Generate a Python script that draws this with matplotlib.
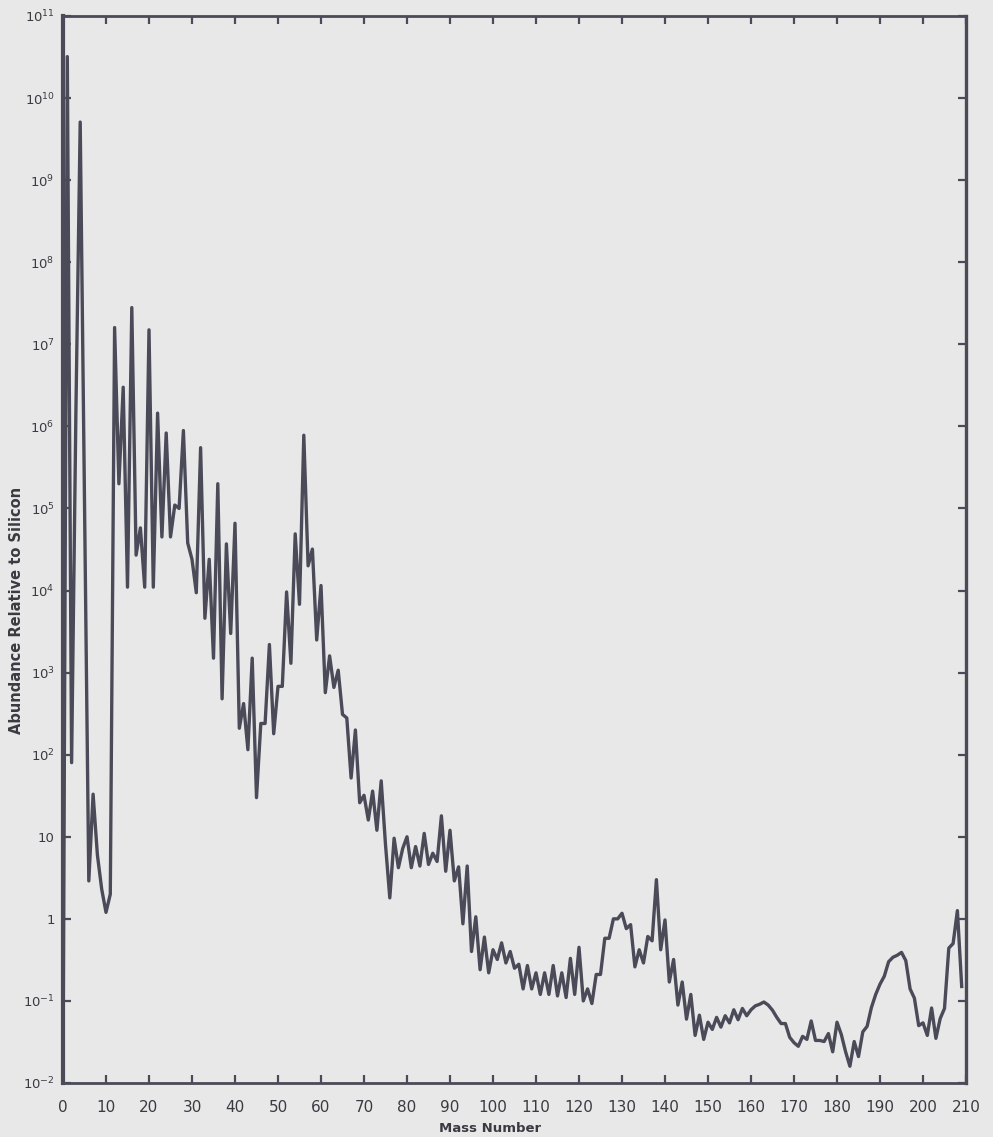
import matplotlib
matplotlib.use("Agg")
import matplotlib.pyplot as plt
from matplotlib.ticker import FixedLocator, NullLocator

# ---- data (mass number -> abundance relative to Si = 10^6)
mass_number = [0, 1, 2, 3, 4, 6, 7, 8, 9, 10, 11,
               12, 13, 14, 15, 16, 17, 18, 19, 20, 21, 22, 23, 24, 25, 26, 27, 28, 29, 30,
               31, 32, 33, 34, 35, 36, 37, 38, 39, 40, 41, 42, 43, 44, 45, 46, 47, 48, 49, 50,
               51, 52, 53, 54, 55, 56, 57, 58, 59, 60, 61, 62, 63, 64, 65, 66, 67, 68, 69, 70,
               71, 72, 73, 74, 75, 76, 77, 78, 79, 80, 81, 82, 83, 84, 85, 86, 87, 88, 89, 90,
               91, 92, 93, 94, 95, 96, 97, 98, 99, 100, 101, 102, 103, 104, 105, 106, 107, 108, 109, 110,
               111, 112, 113, 114, 115, 116, 117, 118, 119, 120, 121, 122, 123, 124, 125, 126, 127, 128, 129, 130,
               131, 132, 133, 134, 135, 136, 137, 138, 139, 140, 141, 142, 143, 144, 145, 146, 147, 148, 149, 150,
               151, 152, 153, 154, 155, 156, 157, 158, 159, 160, 161, 162, 163, 164, 165, 166, 167, 168, 169, 170,
               171, 172, 173, 174, 175, 176, 177, 178, 179, 180, 181, 182, 183, 184, 185, 186, 187, 188, 189, 190,
               191, 192, 193, 194, 195, 196, 197, 198, 199, 200, 201, 202, 203, 204, 205, 206, 207, 208, 209]

abundance = [1.0e-2, 3.2e10, 80, 1.5e6, 5.1e9, 2.9, 33, 6, 2.3, 1.2, 2,
             1.6e7, 2.0e5, 3.0e6, 1.1e4, 2.8e7, 2.7e4, 5.8e4, 1.1e4, 1.5e7, 1.1e4, 1.45e6, 4.5e4, 8.3e5, 4.5e4, 1.1e5, 1.0e5, 8.9e5, 3.8e4, 2.4e4,
             9.4e3, 5.5e5, 4.6e3, 2.4e4, 1.5e3, 2.0e5, 480, 3.7e4, 3.0e3, 6.6e4, 210, 420, 115, 1.5e3, 30, 240, 240, 2.2e3, 180, 680,
             680, 9.6e3, 1.3e3, 4.9e4, 6.8e3, 7.8e5, 2.0e4, 3.2e4, 2.5e3, 1.15e4, 570, 1.6e3, 660, 1.07e3, 310, 280, 52, 200, 26, 32,
             16, 36, 12, 48, 8, 1.8, 9.6, 4.2, 7.2, 10, 4.2, 7.6, 4.4, 11, 4.6, 6.3, 5, 18, 3.8, 12,
             2.9, 4.3, 0.87, 4.4, 0.40, 1.06, 0.24, 0.60, 0.22, 0.42, 0.32, 0.51, 0.29, 0.40, 0.25, 0.28, 0.14, 0.27, 0.14, 0.22,
             0.12, 0.22, 0.12, 0.27, 0.115, 0.22, 0.11, 0.33, 0.12, 0.45, 0.10, 0.14, 0.093, 0.21, 0.21, 0.58, 0.58, 1.0, 1.0, 1.17,
             0.76, 0.85, 0.26, 0.42, 0.29, 0.61, 0.54, 3.0, 0.42, 0.97, 0.17, 0.32, 0.089, 0.17, 0.06, 0.12, 0.038, 0.067, 0.034, 0.055,
             0.045, 0.063, 0.048, 0.066, 0.054, 0.078, 0.059, 0.081, 0.066, 0.078, 0.087, 0.091, 0.097, 0.089, 0.077, 0.063, 0.053, 0.053, 0.036, 0.031,
             0.028, 0.037, 0.034, 0.057, 0.033, 0.033, 0.032, 0.040, 0.024, 0.055, 0.039, 0.024, 0.016, 0.032, 0.021, 0.042, 0.049, 0.083, 0.12, 0.16,
             0.20, 0.30, 0.34, 0.36, 0.39, 0.31, 0.14, 0.108, 0.05, 0.054, 0.038, 0.082, 0.035, 0.061, 0.081, 0.44, 0.50, 1.26, 0.15]

x_ticks = list(range(0, 211, 10))
x_tick_labels = [str(v) for v in x_ticks]
y_ticks = [1e-2, 1e-1, 1, 1e1, 1e2, 1e3, 1e4, 1e5, 1e6, 1e7, 1e8, 1e9, 1e10, 1e11]
y_tick_labels = [r"$10^{-2}$", r"$10^{-1}$", "1", "10", r"$10^{2}$", r"$10^{3}$", r"$10^{4}$",
                 r"$10^{5}$", r"$10^{6}$", r"$10^{7}$", r"$10^{8}$", r"$10^{9}$", r"$10^{10}$", r"$10^{11}$"]

x_label = "Mass Number"
y_label = "Abundance Relative to Silicon"

# ---- styling
paper = "#e8e8e8"
ink = "#4a4a58"
text_col = "#3a3a42"

W, H = 993, 1137
fig = plt.figure(figsize=(W / 100, H / 100), dpi=100, facecolor=paper)
left, right, top, bottom = 63, 966, 16, 1083
ax = fig.add_axes([left / W, 1 - bottom / H, (right - left) / W, (bottom - top) / H])
ax.set_facecolor(paper)
ax.set_yscale("log")
ax.set_xlim(0, 210)
ax.set_ylim(1e-2, 1e11)

ax.plot(mass_number, abundance, color=ink, lw=2.4, solid_joinstyle="round", clip_on=True)

ax.xaxis.set_major_locator(FixedLocator(x_ticks))
ax.set_xticklabels(x_tick_labels)
ax.yaxis.set_major_locator(FixedLocator(y_ticks))
ax.yaxis.set_minor_locator(NullLocator())
ax.set_yticklabels(y_tick_labels)

ax.tick_params(axis="both", which="major", direction="in", top=True, right=True,
               length=6, width=1.6, color=ink, labelcolor=text_col)
ax.tick_params(axis="x", pad=12, labelsize=11)
ax.tick_params(axis="y", pad=6, labelsize=9.5)

for side, lw in (("left", 3.0), ("bottom", 2.0), ("top", 2.0), ("right", 2.4)):
    ax.spines[side].set_linewidth(lw)
    ax.spines[side].set_color(ink)

fig.text(490 / W, 1 - 1128 / H, x_label, ha="center", va="center",
         fontsize=9.5, fontweight="bold", color=text_col)
fig.text(17 / W, 1 - 610 / H, y_label, ha="center", va="center", rotation=90,
         fontsize=10.5, fontweight="bold", color=text_col)

fig.savefig("out.png", dpi=100, facecolor=paper)
